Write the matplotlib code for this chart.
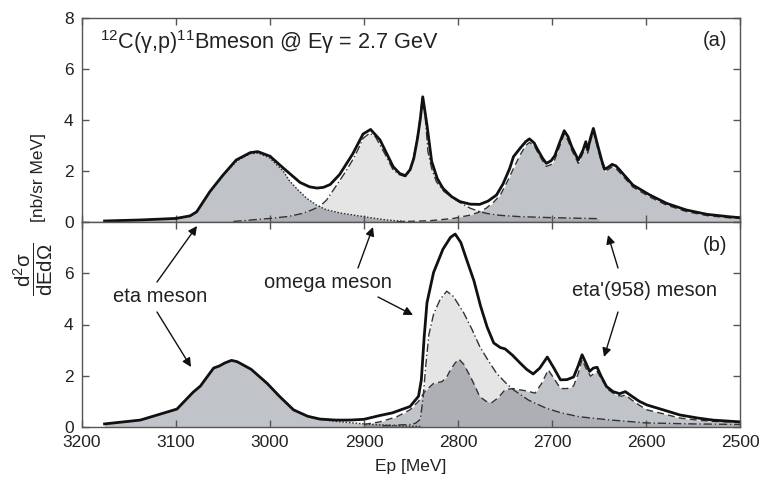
import matplotlib
matplotlib.use('Agg')
import matplotlib.pyplot as plt
from matplotlib.patches import FancyArrowPatch

plt.rcParams['font.family'] = ['Liberation Sans', 'DejaVu Sans']
plt.rcParams['mathtext.fontset'] = 'custom'
plt.rcParams['mathtext.rm'] = 'Liberation Sans'
plt.rcParams['mathtext.it'] = 'Liberation Sans:italic'
plt.rcParams['mathtext.bf'] = 'Liberation Sans:bold'

# ---------------- data: panel (a) ----------------
a_total_ep = [3176, 3138, 3100, 3085, 3078, 3064, 3050, 3036, 3021, 3013, 3000, 2986, 2968,
              2958, 2950, 2943, 2936, 2926, 2912, 2901, 2893, 2883, 2869, 2862, 2856, 2851,
              2847, 2843, 2840, 2837.5, 2835, 2833, 2828, 2822, 2816, 2807, 2798, 2787, 2777,
              2768, 2759, 2752, 2745, 2741, 2734, 2728, 2724, 2719, 2715, 2710, 2706, 2701,
              2697, 2692, 2687, 2683, 2679, 2672, 2667, 2664, 2662, 2659, 2656, 2651, 2647,
              2644, 2640, 2636, 2632, 2628, 2614, 2596, 2578, 2557, 2535, 2510, 2500]
a_total = [0.04, 0.08, 0.14, 0.24, 0.40, 1.19, 1.84, 2.43, 2.72, 2.76, 2.58, 2.12, 1.55,
           1.38, 1.33, 1.36, 1.47, 1.86, 2.67, 3.45, 3.63, 3.22, 2.17, 1.90, 1.82, 2.05,
           2.50, 3.30, 4.07, 4.91, 4.30, 3.80, 2.37, 1.70, 1.32, 1.00, 0.80, 0.70, 0.69,
           0.82, 1.06, 1.50, 2.10, 2.56, 2.89, 3.15, 3.26, 3.10, 2.82, 2.50, 2.30, 2.40,
           2.60, 3.10, 3.58, 3.35, 2.95, 2.43, 2.82, 3.15, 2.82, 3.30, 3.67, 2.95, 2.40,
           2.07, 2.15, 2.26, 2.20, 2.04, 1.45, 1.06, 0.73, 0.47, 0.30, 0.20, 0.17]

a_eta_ep = [3176, 3138, 3100, 3085, 3078, 3064, 3050, 3035, 3021, 3012, 3000, 2986, 2979,
            2970, 2961, 2950, 2940, 2925, 2911, 2890, 2876, 2855]
a_eta = [0.04, 0.08, 0.14, 0.24, 0.40, 1.19, 1.84, 2.40, 2.68, 2.70, 2.50, 2.00, 1.60,
         1.25, 0.93, 0.65, 0.48, 0.35, 0.27, 0.15, 0.08, 0.02]

a_omega_ep = [3039, 3000, 2980, 2965, 2955, 2947, 2940, 2929, 2920, 2911, 2905, 2901, 2894,
              2888, 2883, 2876, 2869, 2862, 2856, 2851, 2846, 2842, 2838, 2835, 2832, 2828,
              2823, 2815, 2805, 2795, 2787, 2778, 2770, 2755, 2734, 2700, 2650]
a_omega = [0.02, 0.14, 0.22, 0.34, 0.48, 0.62, 0.85, 1.45, 1.95, 2.50, 2.95, 3.28, 3.48,
           3.35, 3.02, 2.55, 2.04, 1.85, 1.78, 2.00, 2.76, 3.60, 4.85, 4.20, 2.76, 2.10,
           1.58, 1.20, 0.93, 0.70, 0.54, 0.42, 0.34, 0.26, 0.21, 0.17, 0.13]

a_etap_ep = [2865, 2830, 2805, 2787, 2778, 2770, 2762, 2755, 2748, 2741, 2734, 2728, 2724,
             2719, 2715, 2710, 2706, 2701, 2697, 2692, 2687, 2683, 2679, 2672, 2667, 2664,
             2662, 2659, 2656, 2651, 2647, 2644, 2640, 2636, 2632, 2628, 2614, 2596, 2578,
             2557, 2535, 2510, 2500]
a_etap = [0.01, 0.05, 0.14, 0.27, 0.38, 0.54, 0.78, 1.06, 1.55, 2.10, 2.62, 3.00, 3.12,
          3.00, 2.72, 2.40, 2.18, 2.25, 2.45, 2.95, 3.45, 3.20, 2.82, 2.30, 2.70, 3.02,
          2.70, 3.18, 3.55, 2.85, 2.30, 1.98, 2.06, 2.16, 2.10, 1.94, 1.37, 0.98, 0.66,
          0.41, 0.25, 0.16, 0.14]

# ---------------- data: panel (b) ----------------
b_total_ep = [3176, 3138, 3099, 3082, 3074, 3068, 3060, 3054, 3048, 3041, 3035, 3020, 3003,
              2990, 2975, 2960, 2947, 2930, 2915, 2900, 2883, 2870, 2851, 2842, 2839, 2836,
              2833, 2826, 2816, 2808, 2803, 2797, 2791, 2783, 2776, 2769, 2762, 2755, 2750,
              2742, 2734, 2727, 2720, 2713, 2705, 2698, 2691, 2684, 2677, 2672, 2668, 2664,
              2660, 2656, 2652, 2648, 2642, 2635, 2628, 2622, 2615, 2607, 2599, 2580, 2564,
              2545, 2529, 2500]
b_total = [0.12, 0.27, 0.70, 1.35, 1.60, 1.90, 2.30, 2.38, 2.50, 2.60, 2.55, 2.25, 1.70,
           1.20, 0.67, 0.42, 0.31, 0.27, 0.27, 0.30, 0.45, 0.55, 0.80, 1.20, 1.84, 3.50,
           4.85, 6.03, 6.94, 7.40, 7.53, 7.20, 6.55, 5.70, 4.72, 3.90, 3.28, 3.10, 3.05,
           2.80, 2.50, 2.25, 2.07, 2.30, 2.73, 2.30, 1.84, 1.85, 1.95, 2.40, 2.82, 2.50,
           2.17, 2.30, 2.33, 2.00, 1.58, 1.38, 1.30, 1.38, 1.20, 1.00, 0.86, 0.65, 0.47,
           0.35, 0.27, 0.20]

b_eta_ep = [3176, 3138, 3099, 3082, 3074, 3068, 3060, 3054, 3048, 3041, 3035, 3020, 3003,
            2990, 2975, 2960, 2947, 2930, 2915, 2900, 2880, 2860, 2840]
b_eta = [0.12, 0.27, 0.70, 1.35, 1.60, 1.90, 2.30, 2.38, 2.50, 2.60, 2.55, 2.25, 1.70,
         1.20, 0.67, 0.42, 0.30, 0.22, 0.17, 0.12, 0.08, 0.04, 0.02]

b_omega_ep = [2880, 2850, 2845, 2840, 2837, 2834, 2831, 2826, 2819, 2812, 2805, 2794, 2785,
              2777, 2768, 2759, 2750, 2741, 2725, 2706, 2690, 2671, 2640, 2600, 2550, 2500]
b_omega = [0.05, 0.10, 0.15, 0.30, 1.20, 2.50, 3.60, 4.40, 4.98, 5.30, 5.10, 4.46, 3.80,
           3.15, 2.60, 2.10, 1.75, 1.45, 1.05, 0.73, 0.55, 0.40, 0.28, 0.16, 0.12, 0.10]

b_etap_ep = [2900, 2883, 2865, 2851, 2842, 2835, 2826, 2817, 2812, 2808, 2803, 2799, 2794,
             2787, 2782, 2777, 2770, 2764, 2757, 2750, 2742, 2734, 2726, 2718, 2711, 2704,
             2698, 2691, 2684, 2677, 2672, 2668, 2664, 2659, 2655, 2652, 2647, 2640, 2632,
             2626, 2622, 2615, 2607, 2599, 2580, 2564, 2545, 2529, 2500]
b_etap = [0.10, 0.20, 0.40, 0.67, 1.00, 1.40, 1.70, 1.77, 1.95, 2.23, 2.50, 2.65, 2.45,
          1.98, 1.60, 1.19, 1.00, 0.95, 1.15, 1.45, 1.50, 1.45, 1.40, 1.32, 1.70, 2.23,
          1.90, 1.50, 1.50, 1.60, 2.10, 2.63, 2.30, 1.98, 2.10, 2.17, 1.85, 1.45, 1.25,
          1.20, 1.25, 1.05, 0.85, 0.67, 0.50, 0.35, 0.27, 0.22, 0.18]

x_ticks = [3200, 3100, 3000, 2900, 2800, 2700, 2600, 2500]
y_ticks = [0, 2, 4, 6, 8]
a_ylabels = ['0', '2', '4', '6', '8']
b_ylabels = ['0', '2', '4', '6', '']

# ---------------- styling ----------------
W, H = 765, 483
DARK = (0.05, 0.09, 0.17, 0.26)
LIGHT = (0.03, 0.03, 0.06, 0.10)
COMP = '#333333'
SPINE = '#555555'
TXT = '#222222'

fig = plt.figure(figsize=(W / 100, H / 100), dpi=100)
axA = fig.add_axes([82 / W, 1 - 222 / H, 658 / W, 204 / H])
axB = fig.add_axes([82 / W, 1 - 427 / H, 658 / W, 205 / H])

for ax, ylabs in ((axA, a_ylabels), (axB, b_ylabels)):
    ax.set_xlim(3200, 2500)
    ax.set_ylim(0, 8)
    ax.set_xticks(x_ticks)
    ax.set_yticks(y_ticks)
    ax.set_yticklabels(ylabs)
    ax.tick_params(direction='in', top=True, right=True, length=5, width=1,
                   color=SPINE, labelsize=12.5, labelcolor=TXT, pad=6)
    for s in ax.spines.values():
        s.set_color(SPINE)
        s.set_linewidth(1.0)
axA.tick_params(labelbottom=False)
axB.tick_params(axis='x', pad=5.5)

# panel (a)
axA.fill_between(a_eta_ep, a_eta, 0, color=DARK, lw=0)
axA.fill_between(a_omega_ep, a_omega, 0, color=LIGHT, lw=0)
axA.fill_between(a_etap_ep, a_etap, 0, color=DARK, lw=0)
axA.plot(a_eta_ep, a_eta, color=COMP, lw=1.0, ls=(0, (1.2, 1.2)))
axA.plot(a_omega_ep, a_omega, color=COMP, lw=1.0, ls=(0, (6, 2, 1, 2)))
axA.plot(a_etap_ep, a_etap, color=COMP, lw=1.0, ls=(0, (5, 3)))
axA.plot(a_total_ep, a_total, color='#111111', lw=2.0, solid_joinstyle='round')

# panel (b)
axB.fill_between(b_eta_ep, b_eta, 0, color=DARK, lw=0)
axB.fill_between(b_omega_ep, b_omega, 0, color=LIGHT, lw=0)
axB.fill_between(b_etap_ep, b_etap, 0, color=DARK, lw=0)
axB.plot(b_eta_ep, b_eta, color=COMP, lw=1.0, ls=(0, (1.2, 1.2)))
axB.plot(b_omega_ep, b_omega, color=COMP, lw=1.0, ls=(0, (6, 2, 1, 2)))
axB.plot(b_etap_ep, b_etap, color=COMP, lw=1.0, ls=(0, (5, 3)))
axB.plot(b_total_ep, b_total, color='#111111', lw=2.0, solid_joinstyle='round')

# texts
fig.text(100 / W, 1 - 42 / H, r'$^{12}$C(γ,p)$^{11}$Bmeson @ Eγ = 2.7 GeV',
         fontsize=15.6, va='center', ha='left', color=TXT)
fig.text(727 / W, 1 - 40 / H, '(a)', fontsize=14.5, ha='right', va='center', color=TXT)
fig.text(727 / W, 1 - 245 / H, '(b)', fontsize=14.5, ha='right', va='center', color=TXT)

fig.text(38 / W, 1 - 178 / H, '[nb/sr MeV]', rotation=90, fontsize=12.5,
         ha='center', va='center', color=TXT)
fig.text(33 / W, 1 - 269 / H, r'$\dfrac{\mathrm{d^2\sigma}}{\mathrm{dEd\Omega}}$', rotation=90,
         fontsize=14.7, ha='center', va='center', color=TXT)
fig.text(411 / W, 1 - 466 / H, 'Ep [MeV]', fontsize=12.5, ha='center', va='center',
         color=TXT)

def fp(x, y):
    return (x, H - y)

for tail, head in [((157, 282), (197, 226)), ((157, 312), (191, 367)),
                   ((358, 268), (373, 227)), ((378, 297), (413, 315)),
                   ((618, 268), (608, 235)), ((618, 312), (604, 357))]:
    fig.add_artist(FancyArrowPatch(
        fp(*tail), fp(*head), transform=None, arrowstyle='-|>', color='#111111',
        lw=1.0, mutation_scale=13, shrinkA=0, shrinkB=0))

fig.text(160 / W, 1 - 296 / H, 'eta meson', fontsize=14.5, ha='center', va='center', color=TXT)
fig.text(328 / W, 1 - 283 / H, 'omega meson', fontsize=14.5, ha='center', va='center', color=TXT)
fig.text(645 / W, 1 - 291 / H, "eta'(958) meson", fontsize=14.5, ha='center', va='center',
         color=TXT)

fig.savefig('out.png', dpi=100)
